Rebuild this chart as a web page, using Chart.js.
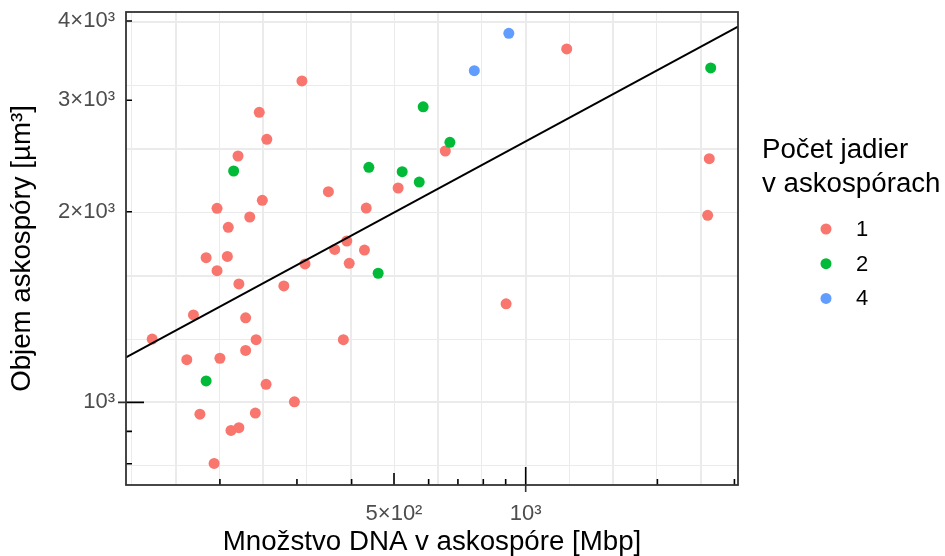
<!DOCTYPE html>
<html>
<head>
<meta charset="utf-8">
<script src="https://cdn.jsdelivr.net/npm/chart.js@4.4.1/dist/chart.umd.min.js"></script>
<style>
  html, body { margin: 0; padding: 0; background: #fff; }
</style>
</head>
<body>
<canvas id="scatterChart" width="945" height="556"></canvas>
<script>
// groups (number of nuclei in the ascospore)
const nucleiGroups = ['1', '2', '4'];
const groupColors = ['#F8766D', '#00BA38', '#619CFF'];

// DNA amount [Mbp] and ascospore volume [µm³]
const dna1 = [308, 246, 256, 220, 250, 197, 234, 209, 186, 208, 197, 313, 221, 280, 174, 229, 140, 242, 229, 168,
              200, 255, 296, 180, 241, 212, 221, 194, 1241, 655, 2628, 511, 354, 432, 2606, 390, 366, 428, 395, 383, 902];
const vol1 = [3217, 2871, 2602, 2449, 2085, 2025, 1962, 1890, 1692, 1700, 1614, 1654, 1538, 1527, 1374, 1360, 1259, 1256, 1208, 1168,
              1174, 1068, 1002, 958, 962, 903, 912, 801, 3614, 2494, 2425, 2180, 2151, 2027, 1974, 1798, 1744, 1740, 1658, 1256, 1431];
const dna2 = [186, 215, 438, 460, 522, 571, 583, 671, 2648];
const vol2 = [1081, 2319, 2350, 1599, 2313, 2228, 2929, 2574, 3373];
const dna4 = [763, 915];
const vol4 = [3340, 3826];

// fitted line (log-log), ends at the panel edges
const fitDna = [122, 3057];
const fitVol = [1178, 3920];

// axis limits
const xMin = 122, xMax = 3057;
const yMin = 740.5, yMax = 4134;

// tick labels
const xTickValues = [500, 1000];
const xTickLabels = ['5×10²', '10³'];
const yTickValues = [1000, 2000, 3000, 4000];
const yTickLabels = ['10³', '2×10³', '3×10³', '4×10³'];

// grid lines every 0.1 decade (major every 0.2)
const xGridExp = [2.1, 2.2, 2.3, 2.4, 2.5, 2.6, 2.7, 2.8, 2.9, 3.0, 3.1, 3.2, 3.3, 3.4];
const yGridExp = [2.9, 3.0, 3.1, 3.2, 3.3, 3.4, 3.5, 3.6];

// log ticks along the panel edges
const xLogTicks = [200, 300, 400, 500, 600, 700, 800, 900, 1000, 2000, 3000];
const yLogTicks = [800, 900, 1000, 2000, 3000, 4000];

const FONT = '"Liberation Sans", Arial, Helvetica, sans-serif';
const TITLE_SIZE = 27.7;
const LABEL_SIZE = 22;
Chart.defaults.font.family = FONT;

function toPoints(xs, ys) {
    return xs.map((v, i) => ({ x: v, y: ys[i] }));
}

function buildTicks(gridExp, labelValues) {
    const vals = gridExp.map(e => Math.pow(10, e));
    labelValues.forEach(v => {
        if (!vals.some(g => Math.abs(g - v) < 1e-6)) vals.push(v);
    });
    vals.sort((a, b) => a - b);
    return vals.map(v => ({ value: v }));
}

function gridKind(value, gridExp) {
    const e = Math.log10(value) * 10;
    const k = Math.round(e);
    if (Math.abs(e - k) > 1e-6 || !gridExp.some(g => Math.round(g * 10) === k)) return 0;
    return k % 2 === 0 ? 2 : 1;
}

function labelFor(value, values, labels) {
    const i = values.findIndex(v => Math.abs(v - value) < 1e-6);
    return i >= 0 ? labels[i] : '';
}

function logTickLength(v) {
    const m = Math.round(v / Math.pow(10, Math.floor(Math.log10(v) + 1e-9)));
    if (m === 1) return 18;
    if (m === 5) return 12;
    return 6;
}

const panelDecor = {
    id: 'panelDecor',
    afterDraw(chart) {
        const { ctx, chartArea: a } = chart;
        const x = chart.scales.x, y = chart.scales.y;
        ctx.save();

        // log ticks inside the panel
        ctx.strokeStyle = '#000';
        ctx.lineWidth = 1.6;
        ctx.beginPath();
        xLogTicks.forEach(v => {
            const px = x.getPixelForValue(v);
            ctx.moveTo(px, a.bottom);
            ctx.lineTo(px, a.bottom - logTickLength(v));
        });
        yLogTicks.forEach(v => {
            const py = y.getPixelForValue(v);
            ctx.moveTo(a.left, py);
            ctx.lineTo(a.left + logTickLength(v), py);
        });
        ctx.stroke();

        // axis ticks outside at 10^3
        ctx.strokeStyle = '#333333';
        ctx.beginPath();
        const px = x.getPixelForValue(1000);
        ctx.moveTo(px, a.bottom);
        ctx.lineTo(px, a.bottom + 7);
        const py = y.getPixelForValue(1000);
        ctx.moveTo(a.left, py);
        ctx.lineTo(a.left - 8, py);
        ctx.stroke();

        // panel border
        ctx.strokeStyle = '#333333';
        ctx.lineWidth = 1.8;
        ctx.strokeRect(a.left, a.top, a.right - a.left, a.bottom - a.top);

        // legend
        ctx.fillStyle = '#000';
        ctx.font = TITLE_SIZE + 'px ' + FONT;
        ctx.textAlign = 'left';
        ctx.textBaseline = 'alphabetic';
        ctx.fillText('Počet jadier', 762, 158);
        ctx.fillText('v askospórach', 762, 192);
        ctx.font = LABEL_SIZE + 'px ' + FONT;
        ctx.textBaseline = 'middle';
        nucleiGroups.forEach((g, i) => {
            const cy = 229 + i * 34.7;
            ctx.fillStyle = groupColors[i];
            ctx.beginPath();
            ctx.arc(826, cy, 5.5, 0, Math.PI * 2);
            ctx.fill();
            ctx.fillStyle = '#000';
            ctx.fillText(g, 856, cy + 1);
        });

        ctx.restore();
    }
};

const ctx = document.getElementById('scatterChart').getContext('2d');
const myChart = new Chart(ctx, {
    type: 'scatter',
    data: {
        datasets: [{
            type: 'line',
            label: 'fit',
            data: toPoints(fitDna, fitVol),
            borderColor: '#000',
            borderWidth: 2,
            pointRadius: 0,
            fill: false,
            order: 0
        }, {
            label: nucleiGroups[0],
            data: toPoints(dna1, vol1),
            backgroundColor: groupColors[0],
            pointRadius: 5.5,
            pointBorderWidth: 0,
            order: 3
        }, {
            label: nucleiGroups[1],
            data: toPoints(dna2, vol2),
            backgroundColor: groupColors[1],
            pointRadius: 5.5,
            pointBorderWidth: 0,
            order: 2
        }, {
            label: nucleiGroups[2],
            data: toPoints(dna4, vol4),
            backgroundColor: groupColors[2],
            pointRadius: 5.5,
            pointBorderWidth: 0,
            order: 1
        }]
    },
    options: {
        responsive: false,
        animation: false,
        devicePixelRatio: 1,
        layout: { padding: { left: 0, top: 12, right: 207, bottom: 0 } },
        plugins: {
            legend: { display: false },
            tooltip: { enabled: false }
        },
        scales: {
            x: {
                type: 'logarithmic',
                position: 'bottom',
                min: xMin,
                max: xMax,
                afterBuildTicks: axis => { axis.ticks = buildTicks(xGridExp, xTickValues); },
                afterFit: axis => { axis.height = 71; axis.paddingLeft = 0; axis.paddingRight = 0; },
                grid: {
                    drawTicks: false,
                    color: c => gridKind(c.tick.value, xGridExp) ? '#EBEBEB' : 'rgba(0,0,0,0)',
                    lineWidth: c => gridKind(c.tick.value, xGridExp) === 2 ? 2 : 1
                },
                border: { display: false },
                ticks: {
                    autoSkip: false,
                    maxRotation: 0,
                    padding: 16,
                    color: '#4D4D4D',
                    font: { size: LABEL_SIZE },
                    callback: value => labelFor(value, xTickValues, xTickLabels)
                },
                title: {
                    display: true,
                    text: 'Množstvo DNA v askospóre [Mbp]',
                    color: '#000',
                    font: { size: TITLE_SIZE, lineHeight: 1 },
                    padding: { top: 0, bottom: 0 }
                }
            },
            y: {
                type: 'logarithmic',
                position: 'left',
                min: yMin,
                max: yMax,
                afterBuildTicks: axis => { axis.ticks = buildTicks(yGridExp, yTickValues); },
                afterFit: axis => { axis.width = 126; axis.paddingTop = 0; axis.paddingBottom = 0; },
                grid: {
                    drawTicks: false,
                    color: c => gridKind(c.tick.value, yGridExp) ? '#EBEBEB' : 'rgba(0,0,0,0)',
                    lineWidth: c => gridKind(c.tick.value, yGridExp) === 2 ? 2 : 1
                },
                border: { display: false },
                ticks: {
                    autoSkip: false,
                    padding: 11,
                    color: '#4D4D4D',
                    font: { size: LABEL_SIZE },
                    callback: value => labelFor(value, yTickValues, yTickLabels)
                },
                title: {
                    display: true,
                    text: 'Objem askospóry [µm³]',
                    color: '#000',
                    font: { size: TITLE_SIZE, lineHeight: 1 },
                    padding: { top: 9, bottom: 0 }
                }
            }
        }
    },
    plugins: [panelDecor]
});
</script>
</body>
</html>
